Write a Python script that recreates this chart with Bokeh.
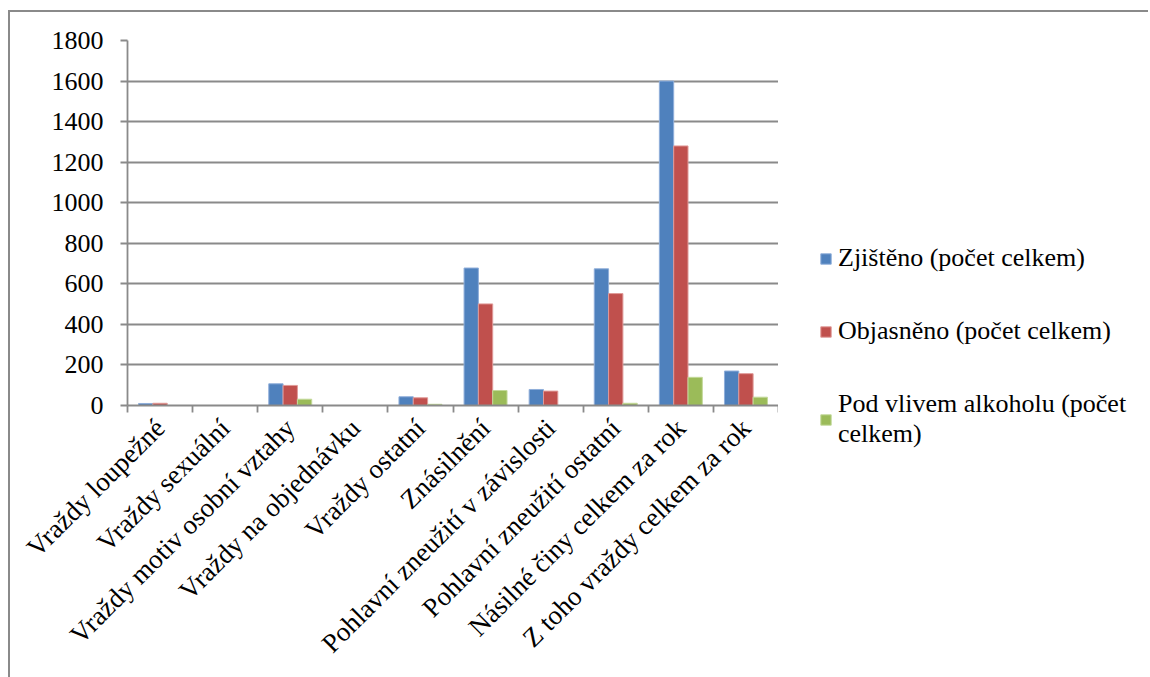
from bokeh.plotting import figure
from bokeh.layouts import row
from bokeh.models import ColumnDataSource, FixedTicker, Legend, LegendItem
from bokeh.embed import file_html
from bokeh.resources import INLINE

categories = ["Vraždy loupežné", "Vraždy sexuální", "Vraždy motiv osobní vztahy",
              "Vraždy na objednávku", "Vraždy ostatní", "Znásilnění",
              "Pohlavní zneužití v závislosti", "Pohlavní zneužití ostatní",
              "Násilné činy celkem za rok", "Z toho vraždy celkem za rok"]
zjisteno = [10, 0, 107, 0, 43, 678, 79, 674, 1600, 170]
objasneno = [11, 0, 99, 0, 38, 501, 71, 552, 1280, 157]
alkohol = [0, 0, 31, 0, 6, 74, 0, 11, 139, 41]

series_names = ["Zjištěno (počet celkem)", "Objasněno (počet celkem)",
                "Pod vlivem alkoholu (počet\ncelkem)"]
colors = ["#4F81BD", "#C0504D", "#9BBB59"]
edges = ["#8FAEDA", "#E09A98", "#C3D99A"]

FONT = "Times New Roman"
GRAY = "#8a8a8a"

n = len(categories)
centers = [i + 0.5 for i in range(n)]
bar_w = 0.22

p = figure(width=768, height=665, x_range=(0, n), y_range=(0, 1800),
           output_backend="svg", toolbar_location=None,
           min_border_left=117, min_border_top=28, min_border_bottom=272,
           min_border_right=0)
p.outline_line_color = None
p.xgrid.grid_line_color = None
p.ygrid.grid_line_color = GRAY
p.ygrid.grid_line_width = 1.8

for k, (vals, col, edge) in enumerate(zip([zjisteno, objasneno, alkohol], colors, edges)):
    src = ColumnDataSource(dict(x=[c + (k - 1) * bar_w for c in centers], top=vals))
    p.vbar(x="x", top="top", width=bar_w, source=src, fill_color=col,
           line_color=edge, line_width=1)

# y axis
p.yaxis.ticker = FixedTicker(ticks=list(range(0, 1801, 200)))
p.yaxis.axis_line_color = GRAY
p.yaxis.axis_line_width = 1.8
p.yaxis.major_tick_line_color = GRAY
p.yaxis.major_tick_line_width = 1.8
p.yaxis.major_tick_out = 7
p.yaxis.major_tick_in = 0
p.yaxis.minor_tick_line_color = None
p.yaxis.major_label_text_font = FONT
p.yaxis.major_label_text_font_size = "26px"
p.yaxis.major_label_text_color = "black"
p.yaxis.major_label_standoff = 17

# x axis: labels at category centres, tick marks at category boundaries
p.xaxis.ticker = FixedTicker(ticks=centers, minor_ticks=list(range(0, n + 1)))
p.xaxis.major_label_overrides = {c: lab for c, lab in zip(centers, categories)}
p.xaxis.major_tick_line_color = None
p.xaxis.minor_tick_line_color = GRAY
p.xaxis.minor_tick_line_width = 1.8
p.xaxis.minor_tick_out = 7
p.xaxis.minor_tick_in = 0
p.xaxis.axis_line_color = GRAY
p.xaxis.axis_line_width = 1.8
p.xaxis.major_label_orientation = 0.785398
p.xaxis.major_label_text_font = FONT
p.xaxis.major_label_text_font_size = "27px"
p.xaxis.major_label_text_color = "black"
p.xaxis.major_label_standoff = 11

# legend panel to the right of the plot area
lg = figure(width=370, height=665, x_range=(0, 1), y_range=(0, 1),
            output_backend="svg", toolbar_location=None,
            x_axis_type=None, y_axis_type=None,
            min_border_left=0, min_border_right=0, min_border_top=0,
            min_border_bottom=0)
if "frame_align" in lg.properties():
    lg.frame_align = False
lg.outline_line_color = None
lg.xgrid.grid_line_color = None
lg.ygrid.grid_line_color = None
keys = []
for col, edge in zip(colors, edges):
    # key glyphs only; the point lies outside the visible range
    keys.append(lg.vbar(x=[5], top=[1], width=0.1, fill_color=col,
                        line_color=edge, line_width=1))

legend = Legend(items=[LegendItem(label=nm, renderers=[r])
                       for nm, r in zip(series_names, keys)],
                location=(41, 228), orientation="vertical",
                padding=0, margin=0, spacing=43,
                glyph_width=13, glyph_height=13, label_standoff=6,
                label_height=20, label_text_font=FONT,
                label_text_font_size="26px", label_text_color="black",
                label_text_line_height=1.1,
                border_line_color=None, background_fill_alpha=0)
lg.add_layout(legend, "center")

# outer chart frame: left and top edges
layout = row(p, lg, spacing=0)
layout.margin = (10, 0, 0, 8)
layout.styles = {"border-left": "2px solid #8a8a8a", "border-top": "2px solid #8a8a8a"}

open("out.html", "w").write(file_html(layout, INLINE))
